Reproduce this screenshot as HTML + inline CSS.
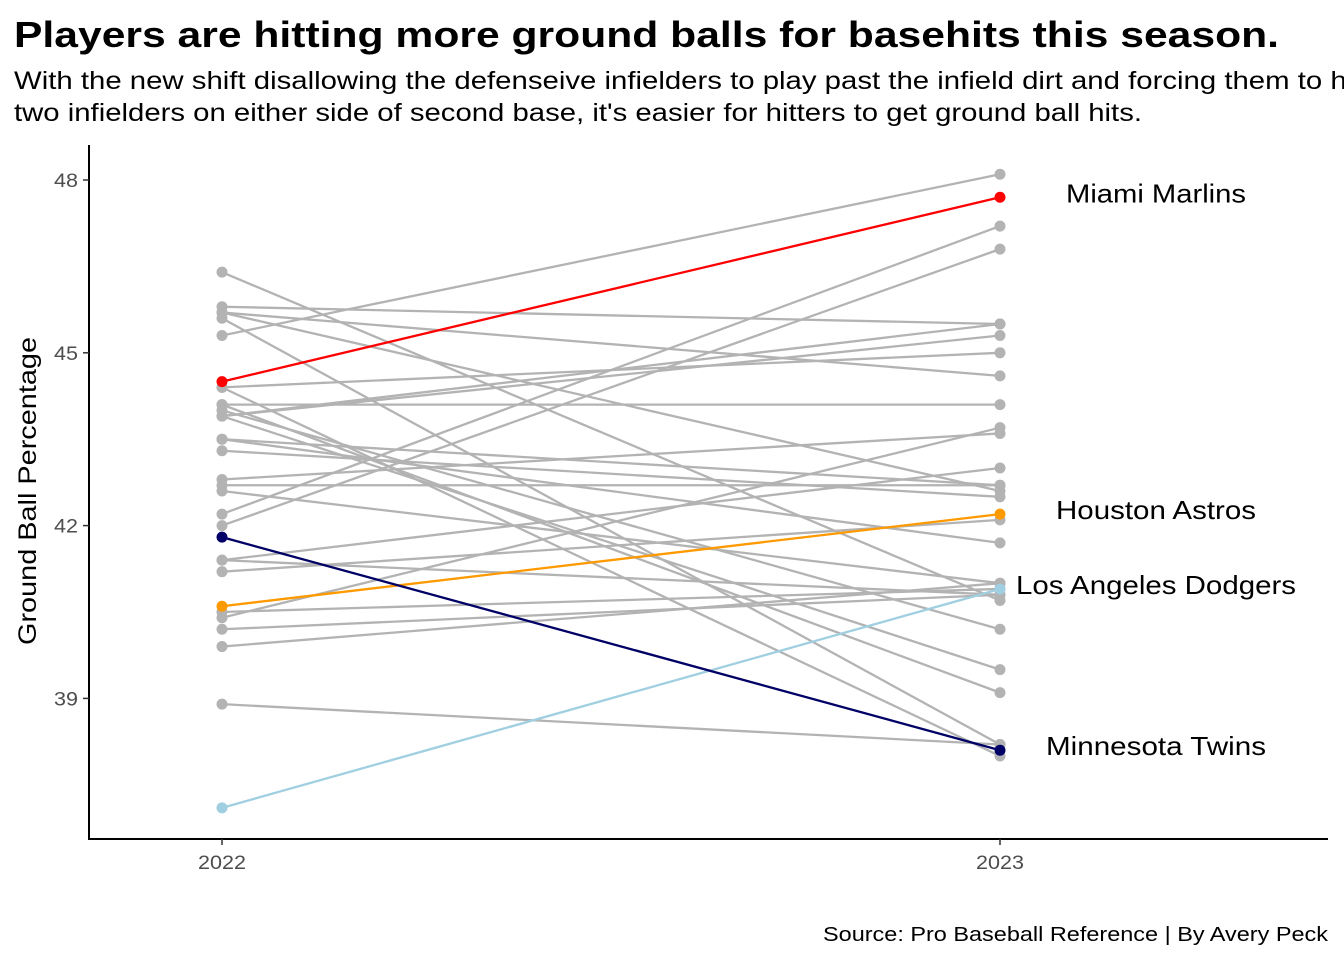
<!DOCTYPE html>
<html><head><meta charset="utf-8"><style>
body{margin:0;background:#fff;font-family:"Liberation Sans",Arial,sans-serif;}
svg{display:block}
</style></head><body>
<svg width="1344" height="960" viewBox="0 0 1344 960" id="chart">
<text x="14" y="47" font-size="36" font-weight="bold" fill="#000" textLength="1265" lengthAdjust="spacingAndGlyphs">Players are hitting more ground balls for basehits this season.</text>
<text x="14" y="89" font-size="25" fill="#000" textLength="1380" lengthAdjust="spacingAndGlyphs">With the new shift disallowing the defenseive infielders to play past the infield dirt and forcing them to have</text>
<text x="14" y="121" font-size="25" fill="#000" textLength="1128" lengthAdjust="spacingAndGlyphs">two infielders on either side of second base, it's easier for hitters to get ground ball hits.</text>
<text transform="translate(36,491) rotate(-90)" text-anchor="middle" font-size="25" fill="#000" textLength="308" lengthAdjust="spacingAndGlyphs">Ground Ball Percentage</text>
<line x1="89" y1="145" x2="89" y2="839" stroke="#000" stroke-width="2"/>
<line x1="88" y1="839" x2="1328" y2="839" stroke="#000" stroke-width="2"/>
<g id="axes"></g>
<g id="grey"></g>
<g id="hl"></g>
<text x="1328" y="941" text-anchor="end" font-size="20" fill="#000" textLength="505" lengthAdjust="spacingAndGlyphs">Source: Pro Baseball Reference | By Avery Peck</text>
</svg>
<script>
const years = ["2022","2023"];
const yTicks = [39,42,45,48];
const grey2022 = [46.4,45.8,45.7,45.6,45.3,44.4,44.1,44.0,43.9,43.9,43.5,43.3,42.8,42.7,42.6,42.2,42.0,41.4,41.4,41.2,40.5,40.4,40.2,39.9,38.9,43.9,44.1,44.4,45.7,43.5];
const grey2023 = [40.7,45.5,42.6,38.2,48.1,38.0,44.1,40.2,45.5,45.3,42.7,42.5,43.6,42.7,41.0,47.2,46.8,43.0,40.8,42.1,40.9,43.7,40.8,41.0,38.2,39.5,39.1,45.0,44.6,41.7];
const hlTeams = ["Miami Marlins","Houston Astros","Los Angeles Dodgers","Minnesota Twins"];
const hl2022 = [44.5,40.6,37.1,41.8];
const hl2023 = [47.7,42.2,40.9,38.1];
const hlColors = ["#ff0000","#ff9900","#9fcfe0","#000066"];
const labelWidths = [180,200,280,220];

const NS="http://www.w3.org/2000/svg";
const xS = i => 222 + i*778;
const yS = v => 180 + (48 - v)*57.6;
function mk(tag, attrs, parent){const e=document.createElementNS(NS,tag);for(const k in attrs)e.setAttribute(k,attrs[k]);parent.appendChild(e);return e;}
const axes=document.getElementById('axes'), grey=document.getElementById('grey'), hl=document.getElementById('hl');
yTicks.forEach(t=>{
  const l=mk('line',{x1:83,x2:89,y1:yS(t),y2:yS(t),stroke:'#333','stroke-width':1.5},axes);
  
  
  const tx=mk('text',{x:78,y:yS(t)+7,'text-anchor':'end','font-size':19,fill:'#4d4d4d',textLength:24,lengthAdjust:'spacingAndGlyphs'},axes);
  tx.textContent=t;
  
  
});
years.forEach((yr,i)=>{
  const l=mk('line',{x1:xS(i),x2:xS(i),y1:839,y2:845,stroke:'#333','stroke-width':1.5},axes);
  
  
  const tx=mk('text',{x:xS(i),y:869,'text-anchor':'middle','font-size':19,fill:'#4d4d4d',textLength:48,lengthAdjust:'spacingAndGlyphs'},axes);
  tx.textContent=yr;
  
  
});
function drawLine(a,b,col,g,name){
  const l=mk('line',{x1:xS(0),y1:yS(a),x2:xS(1),y2:yS(b),stroke:col,'stroke-width':2.3},g);
  
  
  [a,b].forEach((v,i)=>{
    const c=mk('circle',{cx:xS(i),cy:yS(v),r:5.5,fill:col},g);
    
    
  });
}
grey2022.forEach((v,i)=>drawLine(v,grey2023[i],'#b3b3b3',grey,'team'));
hl2022.forEach((v,i)=>{
  drawLine(v,hl2023[i],hlColors[i],hl,'highlight-team');
  const tx=mk('text',{x:1156,y:yS(hl2023[i])+5,'text-anchor':'middle','font-size':26,fill:'#000',textLength:labelWidths[i],lengthAdjust:'spacingAndGlyphs'},hl);
  tx.textContent=hlTeams[i];
  
  
});
</script>
</body></html>
